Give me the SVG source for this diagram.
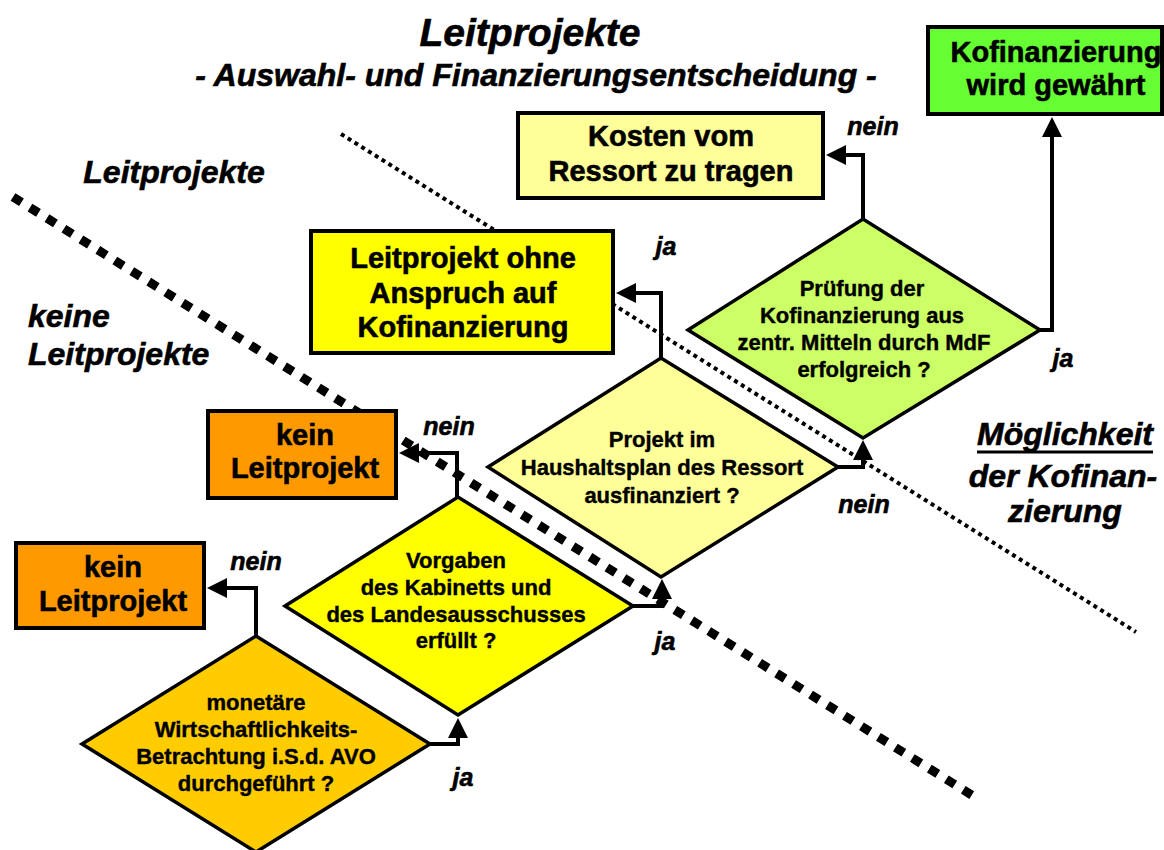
<svg xmlns="http://www.w3.org/2000/svg" width="1164" height="850" viewBox="0 0 1164 850">
<defs>
<style>
text{font-family:"Liberation Sans",Arial,sans-serif;font-weight:bold;fill:#000;text-anchor:middle;stroke:#000;stroke-width:0.6}
.it{font-style:italic}
.box{stroke:#000;stroke-width:4}
.dia{stroke:#000;stroke-width:3.5;stroke-linejoin:miter}
.bt{font-size:29px}
.dt{font-size:22px;stroke-width:0.4}
.lbl{font-size:25px;font-style:italic}
.side{font-size:32px;font-style:italic}
.conn{fill:none;stroke:#000;stroke-width:4}
</style>
<marker id="arr" viewBox="0 0 20 20" refX="15" refY="10" markerWidth="20" markerHeight="20" markerUnits="userSpaceOnUse" orient="auto">
<path d="M0,0 L20,10 L0,20 z" fill="#000"/>
</marker>
</defs>
<rect width="1164" height="850" fill="#fff"/>

<g id="title">
<text class="it" x="530" y="46" font-size="39">Leitprojekte</text>
<text class="it" x="536" y="86" font-size="32">- Auswahl- und Finanzierungsentscheidung -</text>
</g>

<g id="separators">
<line x1="13" y1="197" x2="978" y2="799" stroke="#000" stroke-width="9" stroke-dasharray="10 10"/>
<line x1="341" y1="134" x2="1136" y2="632" stroke="#000" stroke-width="4" stroke-dasharray="4 4"/>
</g>

<g id="side-labels">
<text class="side" x="174" y="183">Leitprojekte</text>
<text class="side" x="28" y="327" style="text-anchor:start">keine</text>
<text class="side" x="28" y="365" style="text-anchor:start">Leitprojekte</text>
<text class="side" x="1065" y="445">Möglichkeit</text>
<line x1="977" y1="452" x2="1153" y2="452" stroke="#000" stroke-width="3"/>
<text class="side" x="1063" y="487">der Kofinan-</text>
<text class="side" x="1065" y="522">zierung</text>
</g>

<g id="connectors">
<path class="conn" d="M256,636 V588 H212" marker-end="url(#arr)"/>
<path class="conn" d="M430,744 H458 V723" marker-end="url(#arr)"/>
<path class="conn" d="M457,497 V453 H404" marker-end="url(#arr)"/>
<path class="conn" d="M633,606 H662 V584" marker-end="url(#arr)"/>
<path class="conn" d="M661,358 V293 H621" marker-end="url(#arr)"/>
<path class="conn" d="M838,467 H863 V445" marker-end="url(#arr)"/>
<path class="conn" d="M863,219 V155 H831" marker-end="url(#arr)"/>
<path class="conn" d="M1040,330 H1052 V122" marker-end="url(#arr)"/>
<text class="lbl" x="256" y="570">nein</text>
<text class="lbl" x="463" y="786">ja</text>
<text class="lbl" x="449" y="435">nein</text>
<text class="lbl" x="665" y="650">ja</text>
<text class="lbl" x="666" y="255">ja</text>
<text class="lbl" x="864" y="513">nein</text>
<text class="lbl" x="873" y="135">nein</text>
<text class="lbl" x="1063" y="367">ja</text>
</g>

<g id="d1">
<polygon class="dia" points="82,744 256,636 430,744 256,852" fill="#FFCC00"/>
<text class="dt" x="256" y="710">monetäre</text>
<text class="dt" x="256" y="737">Wirtschaftlichkeits-</text>
<text class="dt" x="256" y="764">Betrachtung i.S.d. AVO</text>
<text class="dt" x="256" y="791">durchgeführt ?</text>
</g>

<g id="d2">
<polygon class="dia" points="285,606 458,497 633,606 458,715" fill="#FFFF00"/>
<text class="dt" x="456" y="568">Vorgaben</text>
<text class="dt" x="456" y="595">des Kabinetts und</text>
<text class="dt" x="456" y="622">des Landesausschusses</text>
<text class="dt" x="456" y="648">erfüllt ?</text>
</g>

<g id="d3">
<polygon class="dia" points="488,467 661,358 838,467 661,577" fill="#FFFF99"/>
<text class="dt" x="662" y="447">Projekt im</text>
<text class="dt" x="662" y="475">Haushaltsplan des Ressort</text>
<text class="dt" x="662" y="503">ausfinanziert ?</text>
</g>

<g id="d4">
<polygon class="dia" points="688,330 863,219 1040,330 863,438" fill="#CCFF66"/>
<text class="dt" x="862" y="296">Prüfung der</text>
<text class="dt" x="862" y="323">Kofinanzierung aus</text>
<text class="dt" x="864" y="350">zentr. Mitteln durch MdF</text>
<text class="dt" x="864" y="377">erfolgreich ?</text>
</g>

<g id="b1">
<rect class="box" x="16" y="543" width="188" height="85" fill="#FF9900"/>
<text class="bt" x="113" y="577">kein</text>
<text class="bt" x="113" y="611">Leitprojekt</text>
</g>

<g id="b2">
<rect class="box" x="208" y="411" width="188" height="87" fill="#FF9900"/>
<text class="bt" x="305" y="445">kein</text>
<text class="bt" x="305" y="478">Leitprojekt</text>
</g>

<g id="b3">
<rect class="box" x="311" y="231" width="302" height="122" fill="#FFFF00"/>
<text class="bt" x="463" y="268">Leitprojekt ohne</text>
<text class="bt" x="463" y="303">Anspruch auf</text>
<text class="bt" x="463" y="337">Kofinanzierung</text>
</g>

<g id="b4">
<rect class="box" x="518" y="113" width="305" height="85" fill="#FFFF99"/>
<text class="bt" x="671" y="146">Kosten vom</text>
<text class="bt" x="671" y="181">Ressort zu tragen</text>
</g>

<g id="b5">
<rect class="box" x="928" y="27" width="234" height="87" fill="#66FF33"/>
<text class="bt" x="1056" y="62">Kofinanzierung</text>
<text class="bt" x="1056" y="95">wird gewährt</text>
</g>
</svg>
